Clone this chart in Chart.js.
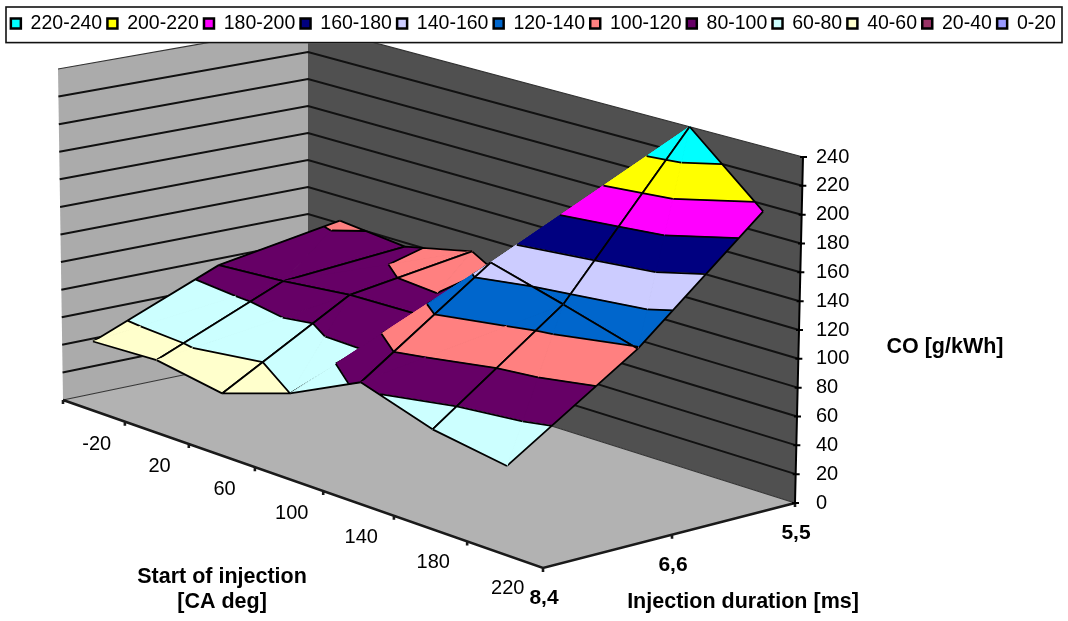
<!DOCTYPE html>
<html>
<head>
<meta charset="utf-8">
<title>CO surface</title>
<style>
  html, body { margin: 0; padding: 0; background: #fff; }
  canvas { display: block; }
</style>
<script src="https://cdn.jsdelivr.net/npm/chart.js@4/dist/chart.umd.min.js"></script>
</head>
<body>
<canvas id="chart" width="1068" height="621"></canvas>
<script>
const startLabels = ['-20', '20', '60', '100', '140', '180', '220'];
const durationLabels = ['8,4', '6,6', '5,5'];
const zTicks = [0, 20, 40, 60, 80, 100, 120, 140, 160, 180, 200, 220, 240];
const bandLabels = ['220-240', '200-220', '180-200', '160-180', '140-160', '120-140', '100-120', '80-100', '60-80', '40-60', '20-40', '0-20'];
const bandColors = ['#00FFFF', '#FFFF00', '#FF00FF', '#000080', '#CCCCFF', '#0066CC', '#FF8080', '#660066', '#CCFFFF', '#FFFFCC', '#993366', '#9999FF'];

// CO [g/kWh] per start of injection, one list per injection duration
const co84 = [50, 52, 44, 60, 84, 68, 60];
const co66 = [87, 90, 95, 96, 148, 134, 119];
const co55 = [102, 97, 108, 80, 90, 240, 195];
const rows = [co84, co66, co55];

// box corners on screen: floor and top plane
const floorQuad = [[63, 400], [543, 568], [795, 503], [308, 349]];
const topQuad = [[58, 69], [552, 211], [803, 157], [308, 25]];

function quadMap(q) {
    const [[x0, y0], [x1, y1], [x2, y2], [x3, y3]] = q;
    const sx = x0 - x1 + x2 - x3, sy = y0 - y1 + y2 - y3;
    const dx1 = x1 - x2, dx2 = x3 - x2, dy1 = y1 - y2, dy2 = y3 - y2;
    const den = dx1 * dy2 - dx2 * dy1;
    const g = (sx * dy2 - dx2 * sy) / den, h = (dx1 * sy - sx * dy1) / den;
    return (u, v) => {
        const w = g * u + h * v + 1;
        return [((x1 - x0 + g * x1) * u + (x3 - x0 + h * x3) * v + x0) / w,
                ((y1 - y0 + g * y1) * u + (y3 - y0 + h * y3) * v + y0) / w];
    };
}
const onFloor = quadMap(floorQuad), onTop = quadMap(topQuad);
const project = (u, v, z) => {
    const a = onFloor(u, v), b = onTop(u, v), t = z / 240;
    return { x: a[0] + (b[0] - a[0]) * t, y: a[1] + (b[1] - a[1]) * t };
};
const GAP = { x: NaN, y: NaN };
const datasets = [];

function addPolygon(points, color, seam) {
    datasets.push({ data: [...points, points[0]], showLine: true, fill: 'shape', backgroundColor: color,
        borderColor: color, borderWidth: seam ? 1 : 0, pointRadius: 0, tension: 0 });
}
function addLine(points, color, width) {
    datasets.push({ data: points, showLine: true, fill: false, borderColor: color, borderWidth: width,
        pointRadius: 0, tension: 0 });
}

// walls and floor
const wallLeft = [project(0, 0, 0), project(0, 1, 0), project(0, 1, 240), project(0, 0, 240)];
const wallRight = [project(0, 1, 0), project(1, 1, 0), project(1, 1, 240), project(0, 1, 240)];
addPolygon(wallLeft, '#ABABAB');
addPolygon(wallRight, '#505050');
addPolygon([project(0, 0, 0), project(1, 0, 0), project(1, 1, 0), project(0, 1, 0)], '#B2B2B2');
const wallLines = [];
zTicks.slice(1, -1).forEach(z => {
    wallLines.push(project(0, 0, z), project(0, 1, z), project(1, 1, z), GAP);
});
addLine(wallLines, '#111', 2);
addLine([project(0, 0, 0), project(0, 1, 0), project(1, 1, 0), GAP, project(0, 0, 240), project(0, 1, 240), project(1, 1, 240)], '#333', 1.2);

// surface, painted from the back corner to the viewer
function clipAt(poly, level, keepAbove) {
    const out = [];
    poly.forEach((p, i) => {
        const q = poly[(i + 1) % poly.length];
        const pIn = keepAbove ? p.z >= level : p.z <= level;
        const qIn = keepAbove ? q.z >= level : q.z <= level;
        if (pIn) out.push(p);
        if (pIn !== qIn) {
            const t = (level - p.z) / (q.z - p.z);
            out.push({ u: p.u + (q.u - p.u) * t, v: p.v + (q.v - p.v) * t, z: level });
        }
    });
    return out;
}
function addTriangle(tri, edges) {
    bandLabels.forEach((label, b) => {
        const [lo, hi] = label.split('-').map(Number);
        const piece = clipAt(clipAt(tri, lo, true), hi, false);
        if (piece.length > 2) addPolygon(piece.map(p => project(p.u, p.v, p.z)), bandColors[b], true);
    });
    const lines = [];
    zTicks.forEach(level => {
        const hits = [];
        tri.forEach((p, i) => {
            const q = tri[(i + 1) % 3];
            if ((p.z < level) !== (q.z < level)) {
                const t = (level - p.z) / (q.z - p.z);
                hits.push(project(p.u + (q.u - p.u) * t, p.v + (q.v - p.v) * t, level));
            }
        });
        if (hits.length === 2) lines.push(hits[0], hits[1], GAP);
    });
    edges.forEach(([p, q]) => lines.push(project(p.u, p.v, p.z), project(q.u, q.v, q.z), GAP));
    addLine(lines, '#000', 1.8);
}
const node = (i, j) => ({ u: (i + 0.5) / startLabels.length, v: j / (rows.length - 1), z: rows[j][i] });

for (let j = rows.length - 2; j >= 0; j--) {
    for (let i = 0; i < startLabels.length - 1; i++) {
        const fl = node(i, j), fr = node(i + 1, j), bl = node(i, j + 1), br = node(i + 1, j + 1);
        // each cell folds along its higher diagonal
        if (fl.z + br.z >= fr.z + bl.z) {
            addTriangle([fl, bl, br], [[fl, bl], [bl, br]]);
            addTriangle([fl, fr, br], [[fl, fr], [fr, br]]);
        } else {
            addTriangle([bl, br, fr], [[bl, br], [br, fr]]);
            addTriangle([bl, fl, fr], [[bl, fl], [fl, fr]]);
        }
    }
}

// axis edges and tick marks
const axisEdges = [project(0, 0, 0), project(1, 0, 0), project(1, 1, 0), GAP];
startLabels.concat('').forEach((_, k) => {
    const p = project(k / startLabels.length, 0, 0);
    axisEdges.push(p, { x: p.x, y: p.y + 4 }, GAP);
});
durationLabels.forEach((_, k) => {
    const p = project(1, k / (durationLabels.length - 1), 0);
    axisEdges.push(p, { x: p.x, y: p.y + 4 }, GAP);
});
addLine(axisEdges, '#1a1a1a', 2.6);
const zAxis = [project(1, 1, 0), project(1, 1, 240), GAP];
zTicks.forEach(z => {
    const p = project(1, 1, z);
    zAxis.push({ x: p.x - 3, y: p.y }, { x: p.x + 4, y: p.y }, GAP);
});
addLine(zAxis, '#000', 2);

const textPlugin = {
    id: 'textPlugin',
    afterDraw(chart) {
        const { ctx, scales: { x, y } } = chart;
        ctx.save();
        ctx.strokeStyle = '#111';
        ctx.lineWidth = 1.6;
        ctx.strokeRect(6, 7, 1056, 35.6);
        ctx.fillStyle = '#000';
        ctx.textAlign = 'center';
        ctx.textBaseline = 'middle';
        const put = (text, px, py) => ctx.fillText(text, px, py);
        ctx.font = '20px "Liberation Sans"';
        startLabels.forEach((label, i) => {
            const p = project((i + 0.5) / startLabels.length, 0, 0);
            put(label, x.getPixelForValue(p.x) + 3, y.getPixelForValue(p.y) + 34);
        });
        ctx.font = 'bold 21px "Liberation Sans"';
        durationLabels.forEach((label, k) => {
            const p = project(1, k / (durationLabels.length - 1), 0);
            put(label, x.getPixelForValue(p.x) + 1, y.getPixelForValue(p.y) + 30);
        });
        ctx.font = 'bold 21.5px "Liberation Sans"';
        put('Start of injection', 222, 577);
        put('[CA deg]', 222, 602);
        put('Injection duration [ms]', 743, 602);
        put('CO [g/kWh]', 945, 347);
        ctx.restore();
    },
};

const zAt = px => (503 - px) / (346 / 240);
const chart = new Chart(document.getElementById('chart'), {
    type: 'scatter',
    data: { datasets: datasets.slice().reverse() },
    plugins: [textPlugin],
    options: {
        responsive: false,
        animation: false,
        events: [],
        layout: { padding: { left: 5.6, top: 8.5 } },
        plugins: {
            tooltip: { enabled: false },
            legend: {
                position: 'top',
                align: 'start',
                onClick: null,
                labels: {
                    font: { family: '"Liberation Sans"', size: 19.5 },
                    color: '#000',
                    boxWidth: 10,
                    boxHeight: 10,
                    padding: 5.25,
                    generateLabels: () => bandLabels.map((text, i) => ({
                        text, fillStyle: bandColors[i], strokeStyle: '#000', lineWidth: 2.5, fontColor: '#000',
                    })),
                },
            },
        },
        scales: {
            x: { type: 'linear', display: false, min: 0, max: 812 },
            y: { type: 'linear', display: false, reverse: true, min: 42, max: 621 },
            z: {
                type: 'linear',
                axis: 'y',
                position: 'right',
                min: zAt(621),
                max: zAt(42),
                afterFit(s) { s.width = 256; },
                afterBuildTicks(s) { s.ticks = zTicks.map(value => ({ value })); },
                grid: { display: false, drawTicks: false },
                border: { display: false },
                ticks: { autoSkip: false, padding: 4, color: '#000', font: { family: '"Liberation Sans"', size: 20 } },
            },
        },
    },
});

// the hidden axes count in page pixels, so pin them to the final chart area
const area = chart.chartArea;
chart.options.scales.x.min = area.left;
chart.options.scales.x.max = area.right;
chart.options.scales.y.min = area.top;
chart.options.scales.y.max = area.bottom;
chart.options.scales.z.min = zAt(area.bottom);
chart.options.scales.z.max = zAt(area.top);
chart.update('none');
</script>
</body>
</html>
